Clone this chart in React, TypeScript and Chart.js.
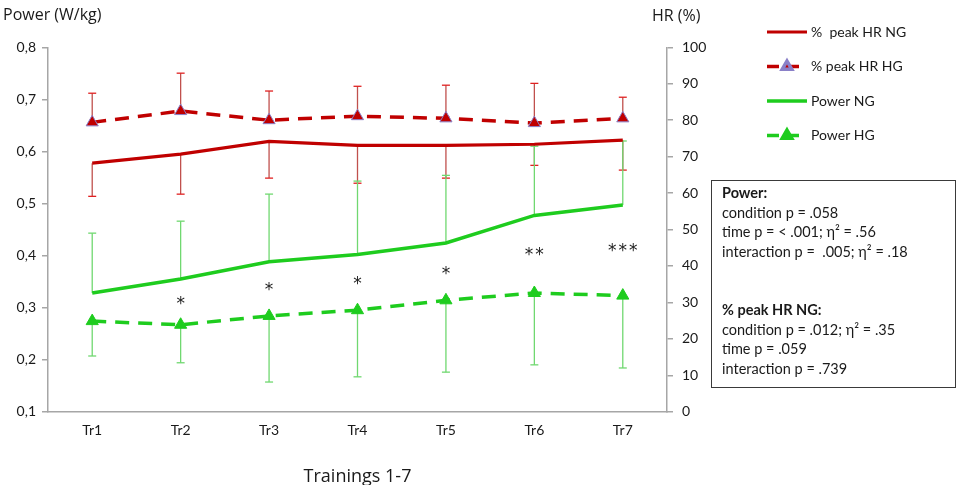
import { useEffect, useRef } from 'react'
import { Chart, registerables } from 'chart.js'
import type { Plugin } from 'chart.js'
import { drawPoint } from 'chart.js/helpers'

Chart.register(...registerables)

// ---- data ----
const trainings = ['Tr1', 'Tr2', 'Tr3', 'Tr4', 'Tr5', 'Tr6', 'Tr7']

// % peak heart rate (right axis)
const hrNG = [68.2, 70.7, 74.2, 73.1, 73.1, 73.4, 74.5]
const hrNGLow = [59.1, 59.7, 64.1, 62.7, 64.1, 67.6, 66.3]
const hrHG = [79.4, 82.5, 80.0, 81.1, 80.5, 79.2, 80.5]
const hrHGHigh = [87.4, 92.9, 88.0, 89.3, 89.6, 90.1, 86.3]

// power in W/kg (left axis)
const powerNG = [0.328, 0.355, 0.388, 0.402, 0.424, 0.477, 0.497]
const powerNGHigh = [0.443, 0.466, 0.518, 0.543, 0.554, 0.61, 0.62]
const powerHG = [0.274, 0.267, 0.284, 0.295, 0.314, 0.328, 0.323]
const powerHGLow = [0.207, 0.194, 0.157, 0.167, 0.176, 0.19, 0.184]

// significance marks, placed on the power axis
const sigMarks = ['', '*', '*', '*', '*', '**', '***']
const sigLevel = [null, 0.311, 0.338, 0.349, 0.37, 0.405, 0.414]

const powerTicks = [0.1, 0.2, 0.3, 0.4, 0.5, 0.6, 0.7, 0.8]

const HR_RED = '#c00000'
const HR_BAR = '#c0504d'
const HR_CAP = '#e02020'
const GREEN = '#1ecc1e'
const GREEN_BAR = '#70d870'
const AXIS = '#a6a6a6'
const TEXT = '#1a1a1a'
const LATO = 'Lato, "Open Sans", sans-serif'
const TITLE_FONT = '"Open Sans", Lato, sans-serif'

// one error-bar end per dataset (same order as datasets)
const errorEnds = [hrNGLow, hrHGHigh, powerNGHigh, powerHGLow]
const errorColors = [
  { bar: HR_BAR, cap: HR_CAP },
  { bar: HR_BAR, cap: HR_CAP },
  { bar: GREEN_BAR, cap: GREEN_BAR },
  { bar: GREEN_BAR, cap: GREEN_BAR },
]

const errorBars: Plugin<'line'> = {
  id: 'errorBars',
  beforeDatasetsDraw(chart) {
    const { ctx } = chart
    chart.data.datasets.forEach((ds: any, i) => {
      const ends = errorEnds[i]
      const scale = chart.scales[ds.yAxisID]
      const meta = chart.getDatasetMeta(i)
      ctx.save()
      ctx.lineWidth = 1.3
      meta.data.forEach((pt, j) => {
        const yEnd = scale.getPixelForValue(ends[j])
        ctx.strokeStyle = errorColors[i].bar
        ctx.beginPath()
        ctx.moveTo(pt.x, pt.y)
        ctx.lineTo(pt.x, yEnd)
        ctx.stroke()
        ctx.strokeStyle = errorColors[i].cap
        ctx.beginPath()
        ctx.moveTo(pt.x - 4, yEnd)
        ctx.lineTo(pt.x + 4, yEnd)
        ctx.stroke()
      })
      ctx.restore()
    })
  },
}

const annotations: Plugin<'line'> = {
  id: 'annotations',
  afterDraw(chart) {
    const { ctx } = chart
    const x = chart.scales.x
    const power = chart.scales.power
    ctx.save()
    // asterisks
    ctx.fillStyle = '#222'
    ctx.font = `17px "DejaVu Sans", sans-serif`
    ctx.textAlign = 'center'
    ctx.textBaseline = 'middle'
    ;(ctx as any).letterSpacing = '2px'
    sigMarks.forEach((mark, i) => {
      const level = sigLevel[i]
      if (!mark || level == null) return
      ctx.fillText(mark, x.getPixelForValue(i) + 1, power.getPixelForValue(level) + 3)
    })
    ;(ctx as any).letterSpacing = '0px'

    // axis titles
    ctx.fillStyle = TEXT
    ctx.font = `16px ${TITLE_FONT}`
    ctx.textAlign = 'left'
    ctx.fillText('Power (W/kg)', 3, 15)
    ctx.fillText('HR (%)', 652, 16)

    // legend
    chart.data.datasets.forEach((ds: any, i) => {
      const y = 32 + i * 34.5
      ctx.save()
      ctx.strokeStyle = ds.borderColor
      ctx.lineWidth = ds.borderWidth
      ctx.setLineDash(ds.borderDash ? [12, 8] : [])
      ctx.beginPath()
      ctx.moveTo(767, y)
      ctx.lineTo(807, y)
      ctx.stroke()
      ctx.setLineDash([])
      if (ds.pointRadius > 0) {
        ctx.fillStyle = ds.pointBackgroundColor
        ctx.strokeStyle = ds.pointBorderColor
        drawPoint(ctx, { pointStyle: 'triangle', radius: 5.5, rotation: 0, borderWidth: 1 }, 787, y)
      }
      ctx.restore()
      ctx.fillStyle = TEXT
      ctx.font = `14px ${LATO}`
      ctx.textBaseline = 'middle'
      ctx.fillText(ds.label, 811, y)
    })
    ctx.restore()
  },
}

export default function App() {
  const canvasRef = useRef<HTMLCanvasElement>(null)

  useEffect(() => {
    document.body.style.margin = '0'
    if (!canvasRef.current) return
    const chart = new Chart(canvasRef.current, {
      type: 'line',
      data: {
        labels: trainings,
        datasets: [
          {
            label: '%  peak HR NG',
            yAxisID: 'hr',
            data: hrNG,
            borderColor: HR_RED,
            borderWidth: 3.2,
            pointRadius: 0,
          },
          {
            label: '% peak HR HG',
            yAxisID: 'hr',
            data: hrHG,
            borderColor: HR_RED,
            borderWidth: 3.5,
            borderDash: [14, 9],
            pointStyle: 'triangle',
            pointRadius: 7,
            pointBackgroundColor: HR_RED,
            pointBorderColor: '#8a80c8',
            pointBorderWidth: 1,
          },
          {
            label: 'Power NG',
            yAxisID: 'power',
            data: powerNG,
            borderColor: GREEN,
            borderWidth: 3.5,
            pointRadius: 0,
          },
          {
            label: 'Power HG',
            yAxisID: 'power',
            data: powerHG,
            borderColor: GREEN,
            borderWidth: 3.5,
            borderDash: [14, 9],
            pointStyle: 'triangle',
            pointRadius: 7,
            pointBackgroundColor: GREEN,
            pointBorderColor: GREEN,
            pointBorderWidth: 1,
          },
        ],
      },
      options: {
        responsive: true,
        maintainAspectRatio: false,
        animation: false,
        layout: { padding: { top: 47.3, left: 0, right: 0, bottom: 0 } },
        plugins: { legend: { display: false }, tooltip: { enabled: false } },
        scales: {
          x: {
            offset: true,
            grid: { display: false, drawTicks: false, offset: true },
            border: { color: AXIS, width: 1.5 },
            ticks: { color: TEXT, font: { family: LATO, size: 14 }, padding: 10 },
            title: {
              display: true,
              text: 'Trainings 1-7',
              color: TEXT,
              font: { family: TITLE_FONT, size: 18 },
              padding: { top: 0, bottom: -3 },
            },
            afterFit: (scale) => {
              scale.height = 485 - 411.7
            },
          },
          power: {
            position: 'left',
            min: 0.1,
            max: 0.8,
            afterBuildTicks: (scale) => {
              scale.ticks = powerTicks.map((value) => ({ value }))
            },
            grid: { drawOnChartArea: false, color: AXIS, tickLength: 6, lineWidth: 1.5 },
            border: { color: AXIS, width: 1.5 },
            ticks: {
              color: TEXT,
              font: { family: LATO, size: 14 },
              padding: 6,
              callback: (v) => Number(v).toFixed(1).replace('.', ','),
            },
            afterFit: (scale) => {
              scale.width = 48
            },
          },
          hr: {
            position: 'right',
            min: 0,
            max: 100,
            grid: { drawOnChartArea: false, color: AXIS, tickLength: 6, lineWidth: 1.5 },
            border: { color: AXIS, width: 1.5 },
            ticks: { color: TEXT, font: { family: LATO, size: 14 }, padding: 9, stepSize: 10 },
            afterFit: (scale) => {
              scale.width = 964 - 667
            },
          },
        },
      },
      plugins: [errorBars, annotations],
    })
    return () => chart.destroy()
  }, [])

  return (
    <div style={{ position: 'relative', width: 964, height: 485, background: '#fff' }}>
      <div style={{ position: 'absolute', inset: 0 }}>
        <canvas ref={canvasRef} role="img" aria-label="Power and % peak HR over trainings 1-7" />
      </div>
      <div
        style={{
          position: 'absolute',
          left: 711,
          top: 180,
          width: 245,
          height: 208,
          border: '1.5px solid #3a3a3a',
          padding: '2px 0 0 10px',
          boxSizing: 'border-box',
          fontFamily: LATO,
          fontSize: 14.5,
          lineHeight: '19.5px',
          color: TEXT,
          whiteSpace: 'pre',
        }}
      >
        <div style={{ fontWeight: 'bold' }}>Power:</div>
        <div>condition p = .058</div>
        <div>time p = &lt; .001; η² = .56</div>
        <div>interaction p =  .005; η² = .18</div>
        <div>{' '}</div>
        <div>{' '}</div>
        <div style={{ fontWeight: 'bold' }}>% peak HR NG:</div>
        <div>condition p = .012; η² = .35</div>
        <div>time p = .059</div>
        <div>interaction p = .739</div>
      </div>
    </div>
  )
}
